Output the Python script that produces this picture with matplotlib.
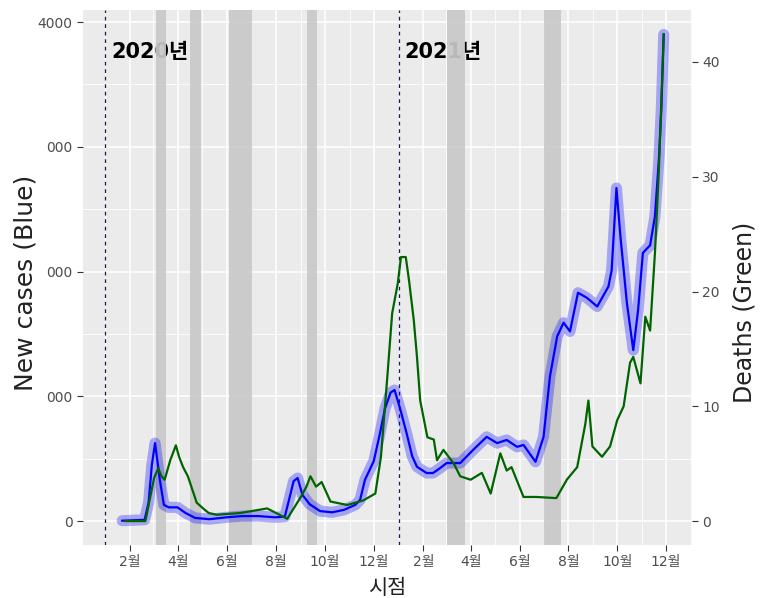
import matplotlib
matplotlib.use('Agg')
import matplotlib.pyplot as plt
import matplotlib.dates as mdates
import pandas as pd

plt.rcParams['font.family'] = ['DejaVu Sans', 'Noto Sans CJK KR']

# daily new cases (smoothed)
case_dates = ['2020-01-22', '2020-02-19', '2020-02-24', '2020-02-28', '2020-03-03', '2020-03-09',
              '2020-03-14', '2020-03-20', '2020-03-31', '2020-04-10', '2020-04-22', '2020-05-10',
              '2020-05-31', '2020-06-20', '2020-07-10', '2020-07-31', '2020-08-12', '2020-08-18',
              '2020-08-23', '2020-08-28', '2020-09-03', '2020-09-12', '2020-09-25', '2020-10-10',
              '2020-10-25', '2020-11-08', '2020-11-14', '2020-11-20', '2020-12-01', '2020-12-08',
              '2020-12-15', '2020-12-22', '2020-12-27', '2021-01-03', '2021-01-11', '2021-01-18',
              '2021-01-24', '2021-02-05', '2021-02-13', '2021-02-22', '2021-03-02', '2021-03-19',
              '2021-04-04', '2021-04-21', '2021-05-04', '2021-05-16', '2021-05-29', '2021-06-06',
              '2021-06-21', '2021-07-01', '2021-07-09', '2021-07-18', '2021-07-26', '2021-08-03',
              '2021-08-13', '2021-08-24', '2021-09-06', '2021-09-20', '2021-09-24', '2021-09-30',
              '2021-10-05', '2021-10-13', '2021-10-21', '2021-10-27', '2021-11-02', '2021-11-11',
              '2021-11-17', '2021-11-22', '2021-11-25', '2021-11-28']
case_values = [3, 10, 150, 450, 625, 330,
               130, 110, 110, 65, 25, 15,
               30, 40, 40, 30, 35, 190,
               320, 345, 210, 135, 80, 70,
               90, 130, 170, 330, 480, 680,
               900, 1030, 1050, 900, 705, 520,
               435, 385, 385, 425, 465, 465,
               570, 675, 625, 650, 595, 610,
               475, 675, 1160, 1480, 1590, 1520,
               1830, 1790, 1720, 1880, 2010, 2670,
               2280, 1750, 1370, 1690, 2150, 2210,
               2440, 2900, 3300, 3900]

# daily deaths
death_dates = ['2020-01-26', '2020-02-20', '2020-02-26', '2020-03-02', '2020-03-07', '2020-03-11',
               '2020-03-15', '2020-03-22', '2020-03-29', '2020-04-02', '2020-04-07', '2020-04-13',
               '2020-04-24', '2020-05-02', '2020-05-09', '2020-05-19', '2020-06-17', '2020-07-21',
               '2020-08-15', '2020-09-01', '2020-09-08', '2020-09-13', '2020-09-20', '2020-09-27',
               '2020-10-08', '2020-10-29', '2020-11-18', '2020-12-03', '2020-12-10', '2020-12-18',
               '2020-12-24', '2020-12-31', '2021-01-04', '2021-01-10', '2021-01-14', '2021-01-20',
               '2021-01-24', '2021-01-28', '2021-02-06', '2021-02-14', '2021-02-18', '2021-02-26',
               '2021-03-11', '2021-03-19', '2021-04-01', '2021-04-15', '2021-04-26', '2021-05-08',
               '2021-05-16', '2021-05-22', '2021-06-06', '2021-06-22', '2021-07-17', '2021-07-30',
               '2021-08-12', '2021-08-22', '2021-08-26', '2021-08-31', '2021-09-12', '2021-09-22',
               '2021-10-01', '2021-10-09', '2021-10-17', '2021-10-21', '2021-10-30', '2021-11-05',
               '2021-11-11', '2021-11-17', '2021-11-22', '2021-11-28']
death_values = [0, 0, 2.1, 3.8, 4.6, 3.9,
                3.6, 5.3, 6.6, 5.6, 4.7, 3.9,
                1.6, 1.1, 0.7, 0.55, 0.7, 1.1,
                0.2, 2.1, 3.0, 3.9, 3.0, 3.4,
                1.7, 1.4, 1.8, 2.4, 5.6, 12.6,
                18.1, 20.7, 23.0, 23.0, 21.0, 17.5,
                14.3, 10.5, 7.3, 7.1, 5.3, 6.2,
                5.0, 3.9, 3.6, 4.2, 2.4, 5.9,
                4.4, 4.7, 2.1, 2.1, 2.0, 3.6,
                4.7, 8.4, 10.5, 6.5, 5.6, 6.5,
                8.8, 10.0, 13.8, 14.3, 12.0, 17.8,
                16.6, 23.3, 30.6, 42.4]

shade_start = ['2020-03-04', '2020-04-16', '2020-06-03', '2020-09-09', '2021-03-03', '2021-07-01']
shade_end = ['2020-03-17', '2020-04-29', '2020-07-02', '2020-09-21', '2021-03-25', '2021-07-23']

year_lines = ['2020-01-01', '2021-01-01']
year_text_pos = ['2020-01-08', '2021-01-08']
year_labels = ['2020년', '2021년']

left_ticks = [0, 1000, 2000, 3000, 4000]
left_ticklabels = ['0', '000', '000', '000', '4000']
right_ticks = [0, 10, 20, 30, 40]
sec_ratio = 92

cases = pd.Series(case_values, index=pd.to_datetime(case_dates))
deaths = pd.Series(death_values, index=pd.to_datetime(death_dates))

fig = plt.figure(figsize=(7.61, 5.98), dpi=100)
ax = fig.add_axes([0.109, 0.0886, 0.8, 0.8946])
ax.set_facecolor('#ebebeb')
for s in ax.spines.values():
    s.set_visible(False)

ylo, yhi = -192, 4096
ax.set_ylim(ylo, yhi)
ax.set_xlim(pd.Timestamp('2019-12-04'), pd.Timestamp('2022-01-02'))

ax.xaxis.set_major_locator(mdates.MonthLocator(bymonth=[2, 4, 6, 8, 10, 12]))
ax.xaxis.set_minor_locator(mdates.MonthLocator(bymonth=[1, 3, 5, 7, 9, 11]))
ax.xaxis.set_major_formatter(plt.FuncFormatter(lambda v, p: f'{mdates.num2date(v).month}월'))
ax.set_yticks(left_ticks)
ax.set_yticklabels(left_ticklabels)
ax.set_yticks([500, 1500, 2500, 3500], minor=True)

ax.set_axisbelow(True)
ax.grid(which='major', color='white', linewidth=1.1)
ax.grid(which='minor', color='white', linewidth=0.6)
ax.tick_params(which='major', length=4, width=0.8, color='#333333', labelcolor='#4d4d4d', labelsize=10)
ax.tick_params(which='minor', length=0)

for xd, lab in zip(year_text_pos, year_labels):
    ax.text(pd.Timestamp(xd), 3760, lab, fontsize=15, fontweight='bold', color='black',
            ha='left', va='center', zorder=1.5)

for a, b in zip(shade_start, shade_end):
    ax.axvspan(pd.Timestamp(a), pd.Timestamp(b), color='#c9c9c9', alpha=0.92, lw=0, zorder=2)

for d in year_lines:
    ax.axvline(pd.Timestamp(d), color='#1a1a60', linestyle=(0, (3, 3)), linewidth=0.9, zorder=2.5)

ax.plot(cases.index, cases.values, color='blue', alpha=0.3, linewidth=8,
        solid_capstyle='round', solid_joinstyle='round', zorder=3)
ax.plot(cases.index, cases.values, color='blue', linewidth=1.6, zorder=3.5)

ax.set_xlabel('시점', fontsize=15, color='#222222', labelpad=6)
ax.set_ylabel('New cases (Blue)', fontsize=18, color='#222222', va='center')
ax.yaxis.set_label_coords(-0.095, 0.49)

ax2 = ax.twinx()
ax2.set_ylim(ylo / sec_ratio, yhi / sec_ratio)
for s in ax2.spines.values():
    s.set_visible(False)
ax2.set_yticks(right_ticks)
ax2.tick_params(length=4, width=0.8, color='#333333', labelcolor='#4d4d4d', labelsize=10)
ax2.plot(deaths.index, deaths.values, color='#006400', linewidth=1.6, zorder=4)
ax2.set_ylabel('Deaths (Green)', fontsize=17, color='#222222', va='center', rotation=90)
ax2.yaxis.set_label_coords(1.087, 0.435)

fig.savefig('out.png', dpi=100)
plt.close('all')
